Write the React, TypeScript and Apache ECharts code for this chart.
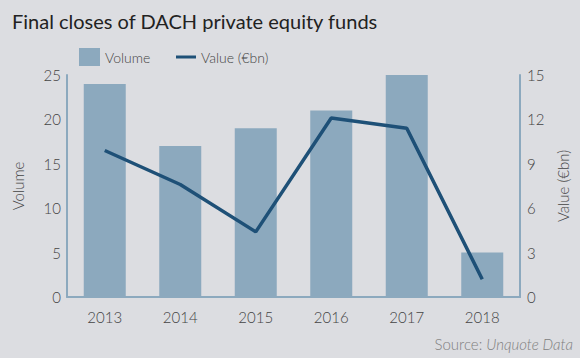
import React, { useEffect, useRef } from "react";
import * as echarts from "echarts";

const years = ["2013", "2014", "2015", "2016", "2017", "2018"];
const volume = [24, 17, 19, 21, 25, 5];
const valueBn = [9.9, 7.6, 4.4, 12.1, 11.4, 1.2];

const BG = "#dcdde1";
const BAR = "#8ca9be";
const LINE = "#1e5077";
const TEXT = "#444444";
const FONT = "Lato, 'Open Sans', sans-serif";

export default function App() {
  const ref = useRef<HTMLDivElement>(null);
  useEffect(() => {
    if (!ref.current) return;
    const chart = echarts.init(ref.current, undefined, { renderer: "svg" });
    chart.setOption({
      animation: false,
      backgroundColor: BG,
      textStyle: { fontFamily: FONT },
      title: {
        text: "Final closes of DACH private equity funds",
        left: 7,
        top: 6,
        textStyle: { fontFamily: FONT, fontSize: 20, fontWeight: "normal", color: "#222" },
      },
      legend: [
        {
          data: ["Volume"],
          left: 79,
          top: 48,
          padding: 0,
          itemWidth: 21,
          itemHeight: 18,
          icon: "rect",
          textStyle: { fontFamily: FONT, fontSize: 14, fontWeight: 300, color: TEXT },
        },
        {
          data: ["Value (€bn)"],
          left: 176,
          top: 48,
          padding: 0,
          itemWidth: 20,
          itemHeight: 3,
          icon: "rect",
          textStyle: { fontFamily: FONT, fontSize: 14, fontWeight: 300, color: TEXT, lineHeight: 18 },
        },
      ],
      grid: { left: 67, right: 60, top: 75, bottom: 61, containLabel: false },
      xAxis: {
        type: "category",
        data: years,
        axisLine: { lineStyle: { color: BAR, width: 2 } },
        axisTick: { show: false },
        axisLabel: { fontFamily: FONT, fontSize: 15, fontWeight: 300, color: TEXT, margin: 12 },
      },
      yAxis: [
        {
          type: "value",
          min: 0,
          max: 25,
          interval: 5,
          name: "Volume",
          nameLocation: "middle",
          nameGap: 42,
          nameRotate: 90,
          nameTextStyle: { fontFamily: FONT, fontSize: 15, fontWeight: 300, color: TEXT },
          axisLine: { show: true, lineStyle: { color: BAR, width: 2 } },
          axisTick: { show: false },
          splitLine: { show: false },
          axisLabel: { fontFamily: FONT, fontSize: 15, fontWeight: 300, color: TEXT, margin: 6 },
        },
        {
          type: "value",
          min: 0,
          max: 15,
          interval: 3,
          name: "Value (€bn)",
          nameLocation: "middle",
          nameGap: 30,
          nameRotate: 90,
          nameTextStyle: { fontFamily: FONT, fontSize: 15, fontWeight: 300, color: TEXT },
          axisLine: { show: true, lineStyle: { color: BAR, width: 2 } },
          axisTick: { show: false },
          splitLine: { show: false },
          axisLabel: { fontFamily: FONT, fontSize: 15, fontWeight: 300, color: TEXT, margin: 7 },
        },
      ],
      series: [
        {
          name: "Volume",
          type: "bar",
          data: volume,
          yAxisIndex: 0,
          barWidth: 42,
          itemStyle: { color: BAR },
        },
        {
          name: "Value (€bn)",
          type: "line",
          data: valueBn,
          yAxisIndex: 1,
          symbol: "none",
          lineStyle: { color: LINE, width: 3.5 },
          itemStyle: { color: LINE },
        },
      ],
      graphic: [
        {
          type: "text",
          right: 7,
          bottom: 7,
          style: {
            text: "{a|Source: }{b|Unquote Data}",
            rich: {
              a: { fontFamily: FONT, fontSize: 15, fontWeight: 300, fill: "#808080" },
              b: { fontFamily: FONT, fontSize: 15, fontWeight: 300, fill: "#808080", fontStyle: "italic" },
            },
          },
        },
      ],
    });
    return () => chart.dispose();
  }, []);
  return (
    <div
      ref={ref}
      style={{ position: "absolute", left: 0, top: 0, width: 580, height: 358, background: BG }}
    />
  );
}
